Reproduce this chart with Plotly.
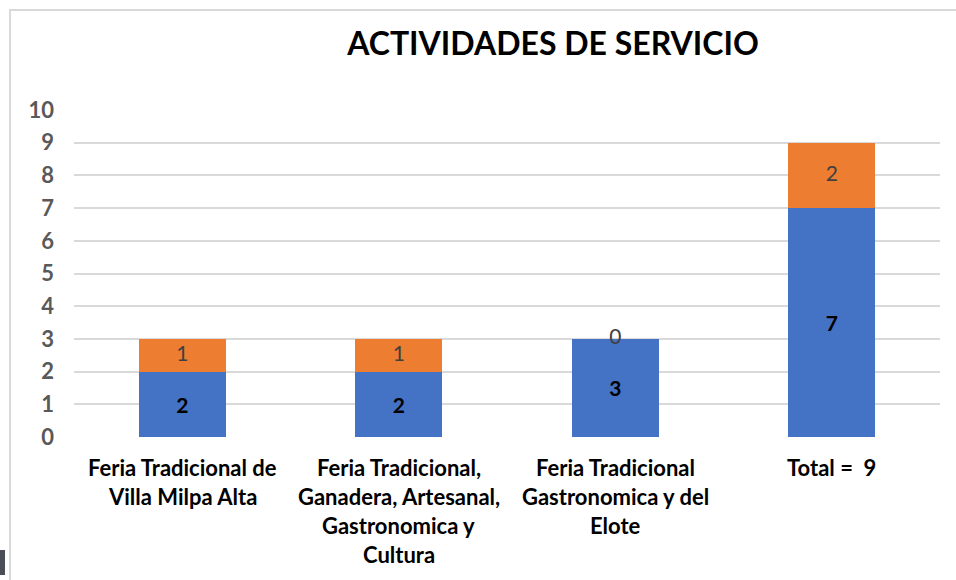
import plotly.graph_objects as go

categories = ["Feria Tradicional de Villa Milpa Alta",
              "Feria Tradicional, Ganadera, Artesanal, Gastronomica y Cultura",
              "Feria Tradicional Gastronomica y del Elote",
              "Total =  9"]
label_lines = [["Feria Tradicional de", "Villa Milpa Alta"],
               ["Feria Tradicional,", "Ganadera, Artesanal,", "Gastronomica y", "Cultura"],
               ["Feria Tradicional", "Gastronomica y del", "Elote"],
               ["Total =  9"]]
serie_azul = [2, 2, 3, 7]
serie_naranja = [1, 1, 0, 2]
y_ticks = list(range(0, 11))

BLUE = "#4472C4"
ORANGE = "#ED7D31"
FONT = "Lato"

fig = go.Figure()
fig.add_trace(go.Bar(
    x=categories, y=serie_azul, marker=dict(color=BLUE, line=dict(width=0)),
    text=[str(v) for v in serie_azul], textposition="inside",
    insidetextanchor="middle",
    textfont=dict(family=FONT, size=21, color="black", weight="bold"),
    showlegend=False, hoverinfo="skip"))
fig.add_trace(go.Bar(
    x=categories, y=serie_naranja, marker=dict(color=ORANGE, line=dict(width=0)),
    showlegend=False, hoverinfo="skip"))
fig.add_trace(go.Scatter(
    x=categories, y=[a + b / 2 for a, b in zip(serie_azul, serie_naranja)],
    mode="text", text=[str(v) for v in serie_naranja],
    textfont=dict(family=FONT, size=21, color="#404040"),
    showlegend=False, hoverinfo="skip"))

annotations = []
for cat, lines in zip(categories, label_lines):
    for i, line in enumerate(lines):
        annotations.append(dict(
            x=cat, xref="x", y=0, yref="paper", yanchor="middle",
            yshift=-(30 + 29 * i), text=line, showarrow=False,
            font=dict(family=FONT, size=22, color="black", weight="bold")))

fig.update_layout(
    width=956, height=580,
    margin=dict(l=74, r=16, t=110, b=143),
    paper_bgcolor="white", plot_bgcolor="white",
    barmode="stack", bargap=0.6,
    title=dict(text="<b>ACTIVIDADES DE SERVICIO</b>",
               font=dict(family=FONT, size=32, color="black"),
               x=553 / 956, xanchor="center", xref="container",
               y=1 - 44 / 580, yanchor="middle", yref="container"),
    xaxis=dict(showticklabels=False, showgrid=False, zeroline=False,
               showline=False, ticks=""),
    yaxis=dict(range=[0, 10], tickvals=y_ticks, showgrid=True,
               gridcolor="#D9D9D9", gridwidth=1.5, zeroline=False,
               showline=False, ticks="", ticklabelstandoff=19,
               tickfont=dict(family=FONT, size=22, color="#595959", weight="bold")),
    annotations=annotations,
    shapes=[
        dict(type="rect", xref="paper", yref="paper",
             x0=(10 - 74) / 866, x1=(962 - 74) / 866,
             y0=(437 - 590) / 327, y1=(437 - 10) / 327,
             line=dict(color="#D9D9D9", width=2), fillcolor="rgba(0,0,0,0)",
             layer="below"),
        dict(type="rect", xref="paper", yref="paper",
             x0=(0 - 74) / 866, x1=(5 - 74) / 866,
             y0=(437 - 575) / 327, y1=(437 - 550) / 327,
             line=dict(width=0), fillcolor="#4A4F57"),
    ],
)

fig.write_html("out.html", config={"displayModeBar": False},
               post_script="document.body.style.margin='0';document.body.style.overflow='hidden';")
